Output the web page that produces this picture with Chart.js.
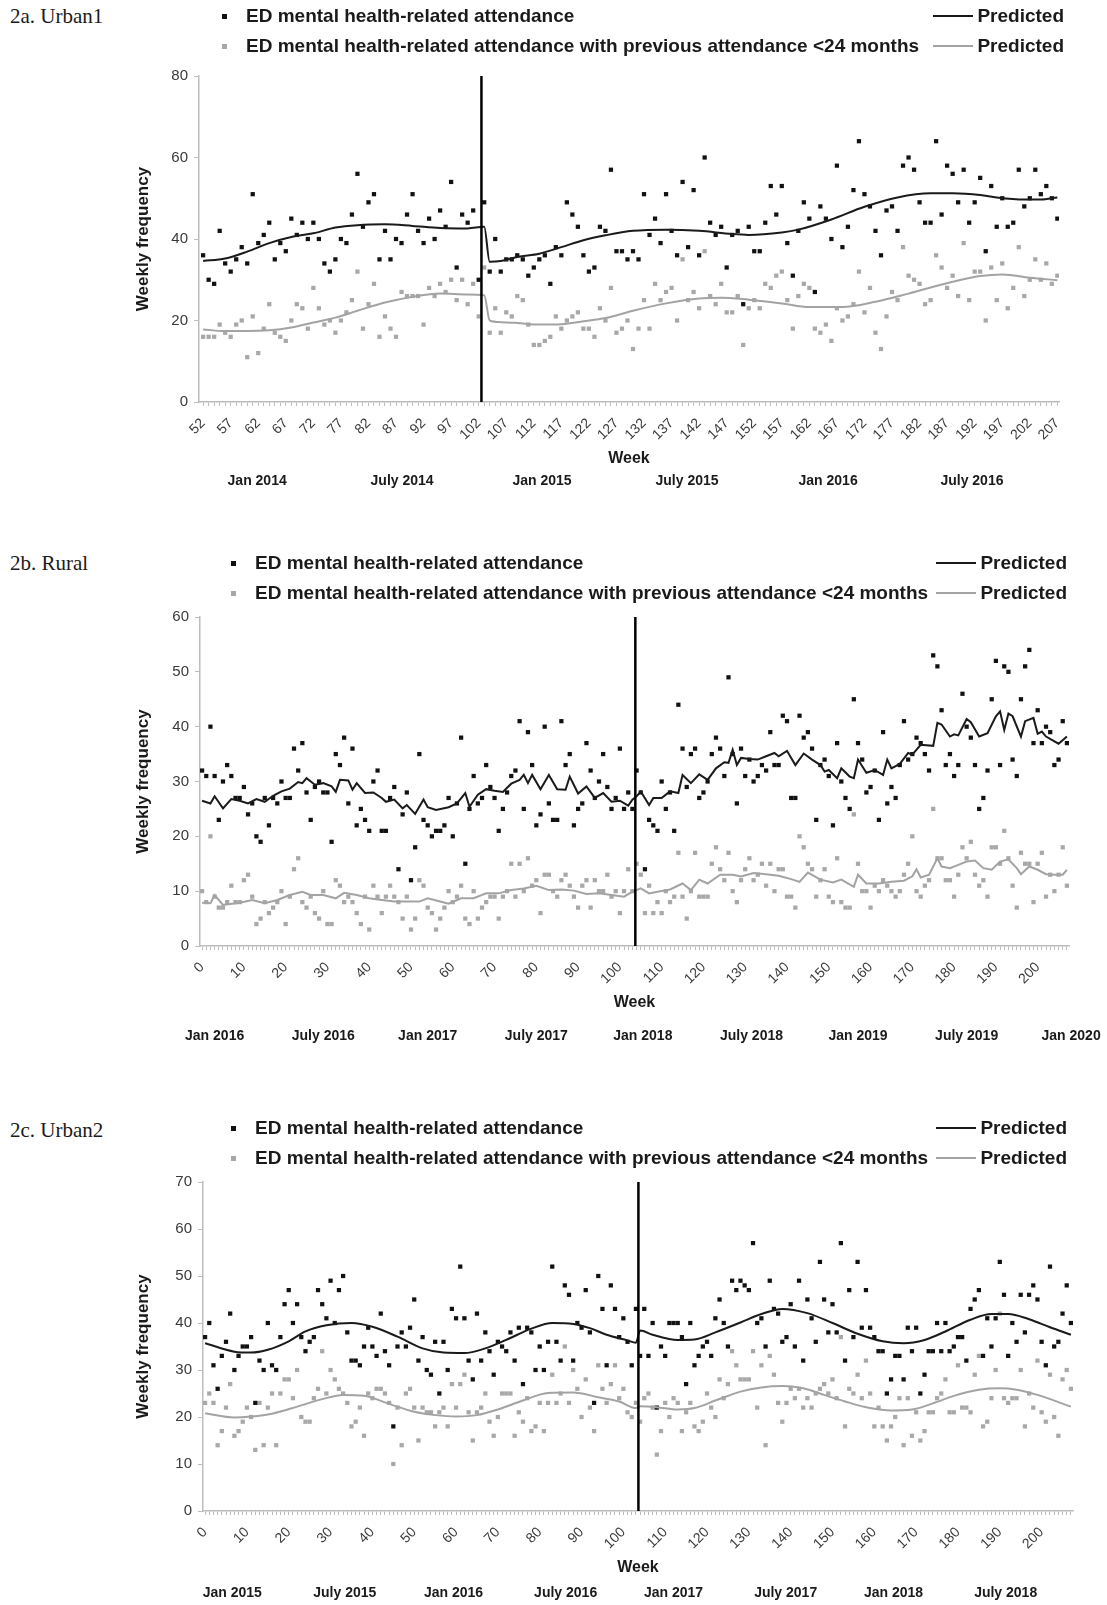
<!DOCTYPE html>
<html>
<head>
<meta charset="utf-8">
<script src="https://cdn.jsdelivr.net/npm/chart.js@4.4.0/dist/chart.umd.min.js"></script>
<style>
  body { margin: 0; width: 1107px; height: 1605px; position: relative; background: #fff; font-family: 'Liberation Sans', Arial, sans-serif; color: #1a1a1a; overflow: hidden; }
  canvas { position: absolute; left: 0; }
  .panel-title { position: absolute; left: 10px; font-family: 'Liberation Serif', 'Times New Roman', serif; font-size: 21px; line-height: 24px; }
  .leg-text { position: absolute; font-weight: bold; font-size: 19px; line-height: 22px; white-space: nowrap; }
  .leg-mark { position: absolute; width: 5px; height: 5px; }
  .leg-pred { position: absolute; display: flex; align-items: center; font-weight: bold; font-size: 19px; line-height: 22px; white-space: nowrap; }
  .leg-line { display: inline-block; width: 40px; height: 2px; margin-right: 4px; }
</style>
</head>
<body>
<div class="panel-title" style="top:4px">2a. Urban1</div>
<div class="panel-title" style="top:551px">2b. Rural</div>
<div class="panel-title" style="top:1118px">2c. Urban2</div>
<canvas id="chart1" width="1107" height="500" style="top:0px"></canvas>
<canvas id="chart2" width="1107" height="530" style="top:530px"></canvas>
<canvas id="chart3" width="1107" height="510" style="top:1095px"></canvas>

<script>
// Week ranges (x categories)
function range(a, b) {
  const out = [];
  for (let i = a; i <= b; i++) out.push(i);
  return out;
}
const weeks1 = range(52, 207);
const weeks2 = range(0, 207);
const weeks3 = range(0, 207);

// Intervention weeks (vertical line)
const cut1 = 102.5;
const cut2 = 103.7;
const cut3 = 103.6;

// 2a. Urban1 - weekly attendance
const black1 = [36,30,29,42,34,32,35,38,34,51,
  39,41,44,35,39,37,45,41,44,40,
  44,40,34,32,35,40,39,46,56,43,
  49,51,35,42,35,40,39,46,51,42,
  39,45,40,47,43,54,33,46,44,47,
  30,49,32,40,32,35,35,36,35,31,
  33,35,36,29,38,36,49,46,43,36,
  32,33,43,42,57,37,37,35,37,35,
  51,41,45,39,51,42,36,54,38,52,
  36,60,44,41,43,33,41,42,24,43,
  37,37,44,53,46,53,39,31,42,49,
  45,27,48,45,40,58,38,43,52,64,
  51,48,42,36,47,48,42,58,60,57,
  49,44,44,64,46,58,56,49,57,44,
  49,55,37,53,43,50,43,44,57,48,
  50,57,51,53,50,45];
const gray1 = [16,16,16,19,17,16,19,20,11,21,
  12,18,24,17,16,15,20,24,23,18,
  28,23,19,20,17,20,22,25,32,18,
  24,29,16,21,18,16,27,26,26,26,
  19,28,26,29,27,30,25,30,24,29,
  21,33,17,23,17,22,21,26,25,19,
  14,14,15,16,21,18,20,21,22,18,
  18,16,23,20,28,17,18,20,13,18,
  25,18,29,25,27,28,20,35,25,27,
  23,37,26,24,29,22,22,26,14,23,
  25,23,29,28,31,32,25,18,26,29,
  28,18,17,19,15,23,20,21,24,32,
  22,28,17,13,21,27,25,38,31,30,
  29,24,25,36,33,28,31,26,39,25,
  32,32,20,33,25,34,23,28,38,26,
  30,35,30,34,29,31];
// Predicted lines as [week, value]
const predBlack1 = [[52,34.6],[56,35.2],[60,36.9],[64,39],[68,40.5],[72,41.4],[76,42.8],[80,43.4],[85,43.6],[90,43.2],
  [95,42.7],[100,42.6],[103,43],[104,34.4],[106,34.6],[109,35.6],[113,36.4],[117,38],[121,39.7],[125,40.9],
  [130,42],[136,42.3],[142,42],[148,41.2],[151,41],[157,41.6],[160,42.3],[166,44.8],[172,47.9],[178,50.2],
  [184,51.2],[188,51.2],[193,50.8],[196,50.2],[201,49.7],[204,49.7],[207,50.2]];
const predGray1 = [[52,17.8],[56,17.4],[60,17.4],[64,17.6],[68,18.3],[72,19.5],[76,20.7],[80,22.4],[85,24.4],[90,25.8],
  [95,26.6],[100,26.4],[103,26.2],[104,20],[106,19.6],[109,19.4],[113,19],[117,19.1],[121,19.8],[125,20.6],
  [130,22.4],[136,24.2],[142,25.4],[146,25.6],[151,25.1],[157,24.2],[162,23.3],[168,23.3],[174,24.6],[180,26.6],
  [188,29.5],[193,30.9],[197,31.3],[202,30.5],[207,29.9]];
const monthLabels1 = ['Jan 2014', 'July 2014', 'Jan 2015', 'July 2015', 'Jan 2016', 'July 2016'];
const monthWeeks1 = [61.8, 88.1, 113.5, 139.8, 165.4, 191.5];

// 2b. Rural
const black2 = [32,31,40,31,23,30,33,31,27,27,
  29,24,26,20,19,27,22,27,26,30,
  27,27,36,32,37,28,23,29,30,28,
  28,19,35,33,38,26,36,22,25,23,
  21,30,32,21,21,27,29,14,24,28,
  12,18,35,23,22,20,21,21,22,27,
  20,26,38,15,25,31,26,27,33,29,
  27,21,25,28,31,32,41,25,39,33,
  22,24,40,26,23,23,41,33,35,22,
  25,26,37,32,27,30,35,29,25,27,
  36,25,28,25,32,28,14,23,22,21,
  30,25,28,21,44,36,29,35,36,27,
  28,30,35,38,36,31,49,35,26,36,
  31,34,30,31,33,32,39,33,33,42,
  41,27,27,42,38,39,36,23,33,34,
  31,22,37,30,27,25,45,37,34,28,
  29,32,23,39,26,29,27,33,41,34,
  35,38,37,35,32,53,51,43,33,35,
  31,33,46,40,38,33,25,27,32,45,
  52,33,51,50,34,31,45,51,54,37,
  43,37,40,39,33,34,41,37];
const gray2 = [10,8,20,9,7,7,8,11,8,8,
  12,13,9,4,5,8,6,7,8,10,
  4,9,14,16,8,7,9,6,5,10,
  4,4,12,11,8,9,8,6,4,9,
  3,11,9,6,9,11,9,8,5,9,
  3,5,12,11,7,6,3,5,7,10,
  8,9,11,5,4,10,5,7,8,9,
  9,5,9,10,15,9,15,10,16,11,
  12,6,13,13,10,9,12,13,11,9,
  7,11,12,7,12,10,10,13,9,10,
  6,10,14,10,15,13,6,11,6,8,
  6,10,8,9,17,9,5,10,17,9,
  9,9,15,18,14,12,17,10,8,12,
  14,16,12,13,15,11,15,10,14,14,
  9,9,7,20,18,15,14,9,12,14,
  9,8,16,8,7,7,24,15,10,10,
  7,11,10,12,11,10,9,10,13,15,
  20,10,9,11,12,25,16,16,12,12,
  9,13,18,16,19,13,11,12,9,18,
  18,15,21,16,11,7,17,15,15,8,
  15,17,9,13,10,13,18,11];
const predBlack2 = [[0,26.5],[2,26],[3,27.3],[5,25.1],[7,26.8],[9,26.5],[11,26],[13,26.8],[15,26.3],[17,27.4],
  [19,28.2],[21,28.7],[23,29.9],[24,29.7],[25,30.6],[27,29.4],[29,29.7],[31,29.1],[32,28.1],[33,30.3],
  [35,30.2],[36,28.5],[37,29.7],[39,27.9],[41,28],[43,27],[44,26.3],[46,26.7],[48,25.1],[49,25.7],
  [51,24.1],[53,26.7],[54,25.3],[56,24.8],[59,25.3],[61,26],[63,27.9],[64,25.4],[66,27.6],[68,28.6],
  [70,28.3],[72,28.1],[74,29.6],[76,30.3],[77,31.2],[78,29.7],[79,31.2],[81,28.6],[83,31.2],[85,28.6],
  [87,28.5],[88,30.9],[90,27.8],[92,29.1],[94,27],[96,27.9],[98,26.3],[100,26.5],[102,25.6],[103,26.7],
  [104,27.3],[105,28.2],[107,25.7],[108,27],[110,27],[112,28.2],[114,27.9],[115,31.2],[117,29.7],[119,31.3],
  [121,30.3],[123,32.4],[125,33.5],[126,33.4],[127,35.8],[128,33],[129,34.3],[131,34.1],[133,34],[135,34.6],
  [137,35.2],[138,34.6],[140,35.6],[142,33],[144,35.1],[146,34],[148,33],[149,31.8],[150,32.1],[152,30.6],
  [153,32.4],[155,30.9],[156,30.6],[157,34],[159,31.6],[161,32.1],[163,31.2],[164,34],[165,32.4],[167,33.2],
  [169,35.2],[170,34.9],[172,36.7],[175,36.5],[176,40.7],[177,40.4],[179,38.2],[180,38.6],[181,38.4],[183,41.4],
  [184,40.8],[186,38.2],[188,38.8],[190,41.9],[191,42.8],[192,39.4],[193,42.4],[194,41.9],[196,38.2],[197,41],
  [199,41.6],[200,38.7],[201,39.1],[202,38.2],[205,36.9],[207,38.2]];
const predGray2 = [[0,7.9],[2,7.8],[3,9.3],[5,7.5],[9,7.9],[12,8.4],[15,7.8],[18,8.4],[21,9.3],[24,9.9],
  [26,9.3],[29,9.3],[32,8.7],[34,9.7],[37,9.3],[40,8.7],[43,8.4],[46,8.1],[49,8.1],[52,8.1],
  [54,8.7],[57,8.1],[59,7.7],[62,8.7],[65,8.7],[68,9.6],[71,9.6],[74,10.2],[77,10.5],[80,11],
  [83,10.2],[86,10.3],[89,10.1],[92,9.5],[95,9.6],[98,9.3],[101,9],[103,9.9],[105,10.5],[107,9.6],
  [109,9.9],[112,10.3],[115,11.4],[117,10.2],[119,12.1],[121,11.4],[124,13],[127,13],[129,12.7],[132,13.3],
  [135,13.1],[138,12.8],[141,12.2],[143,11.7],[145,13.4],[148,12.1],[151,11.6],[153,12.1],[156,10.8],[157,13],
  [159,11.4],[162,11.4],[165,11.7],[168,11.9],[170,12.7],[171,14],[172,12.5],[174,13],[176,16],[177,14.5],
  [179,14.2],[181,14.8],[183,15.4],[185,15.6],[187,14.2],[189,13.9],[191,15.4],[193,15.8],[195,14.2],[196,13.1],
  [198,14.5],[200,13.9],[202,13.1],[204,13],[206,13],[207,13.9]];
const monthLabels2 = ['Jan 2016', 'July 2016', 'Jan 2017', 'July 2017', 'Jan 2018', 'July 2018', 'Jan 2019', 'July 2019', 'Jan 2020'];
const monthWeeks2 = [3, 29, 54, 80, 105.5, 131.5, 157, 183, 208];

// 2c. Urban2
const black3 = [37,40,31,26,33,36,42,30,33,35,
  35,37,23,32,30,40,31,30,37,44,
  47,40,44,37,34,36,37,47,44,41,
  49,40,47,50,38,32,32,31,35,39,
  35,33,42,34,31,18,35,38,35,39,
  45,32,37,30,29,36,25,36,30,43,
  41,52,41,32,28,42,32,38,34,29,
  36,35,34,38,32,39,27,39,38,30,
  35,30,36,52,36,32,48,46,32,40,
  39,47,38,23,50,43,31,48,43,37,
  41,36,31,43,33,43,33,40,22,35,
  33,40,40,40,37,27,40,31,33,35,
  36,33,41,45,40,35,49,47,49,48,
  47,57,40,41,35,49,43,42,36,37,
  44,35,49,32,45,41,36,53,45,38,
  44,38,57,32,47,37,53,39,47,39,
  37,34,34,25,28,33,33,28,39,34,
  39,25,29,34,34,40,34,40,34,35,
  37,37,32,43,45,47,33,41,35,41,
  53,46,33,40,36,46,38,46,48,45,
  36,31,52,35,36,42,48,40];
const gray3 = [23,25,23,14,17,22,27,16,17,19,
  22,20,13,23,14,22,25,14,25,28,
  28,24,30,20,19,19,24,26,34,25,
  30,28,26,25,23,18,19,22,16,25,
  24,26,26,25,23,10,22,14,25,26,
  22,15,22,21,21,18,21,22,18,27,
  22,27,29,21,15,21,22,25,19,16,
  20,25,25,25,16,21,19,24,17,18,
  23,17,23,29,23,25,35,23,30,26,
  20,28,22,17,31,26,23,27,31,24,
  26,21,20,23,19,24,25,22,12,17,
  23,20,24,23,17,21,23,18,17,19,
  25,22,20,28,24,27,34,31,28,28,
  28,34,22,31,14,33,29,23,19,23,
  26,24,26,22,24,22,25,26,27,25,
  28,24,37,18,26,25,29,24,32,25,
  18,22,18,15,18,20,24,14,24,16,
  21,15,17,21,21,24,25,28,21,21,
  31,22,22,21,29,33,18,19,24,30,
  42,24,23,24,24,30,18,25,22,32,
  21,19,29,20,16,28,30,26];
const predBlack3 = [[0,35.7],[7,33.9],[11,33.7],[15,34.3],[20,36.1],[24,38.2],[29,39.5],[35,40],[40,39.2],[46,37.1],
  [52,34.6],[57,33.7],[62,33.6],[67,34.6],[72,36.4],[78,38.8],[83,40],[88,39.8],[92,38.9],[96,37.5],
  [101,36.3],[103,35.8],[104,38.4],[107,37.5],[113,36.4],[117,36.5],[122,38],[128,40.1],[133,41.9],[138,43],
  [144,42.1],[150,40],[156,37.7],[162,36.1],[167,35.7],[172,36.4],[177,38.2],[183,40.7],[188,41.9],[192,41.9],
  [197,40.8],[202,39.1],[207,37.5]];
const predGray3 = [[0,20.8],[7,19.9],[11,20.1],[16,20.7],[22,22.2],[28,23.8],[33,24.7],[38,24.5],[44,22.8],[50,21.1],
  [55,20.4],[60,20.1],[65,20.4],[70,21.6],[76,23.5],[82,25.1],[88,25.2],[94,24.2],[99,23.3],[103,21.9],
  [104,22.3],[108,22.1],[113,21.6],[117,21.9],[122,23.5],[128,25.4],[133,26.3],[138,26.6],[143,26.1],[148,24.7],
  [153,23.3],[159,21.9],[164,21.4],[169,21.6],[174,22.9],[179,24.5],[185,25.8],[190,26.1],[194,25.8],[199,24.7],
  [207,22.2]];
const monthLabels3 = ['Jan 2015', 'July 2015', 'Jan 2016', 'July 2016', 'Jan 2017', 'July 2017', 'Jan 2018', 'July 2018'];
const monthWeeks3 = [6.5, 33.4, 59.4, 86.2, 112, 138.8, 164.6, 191.4];

const FONT = "'Liberation Sans', Arial, sans-serif";
const AXIS_GRAY = '#bdbdbd';

// Month labels under the week axis
const monthLabelPlugin = {
  id: 'monthLabels',
  afterDraw(chart, args, opts) {
    const xs = chart.scales.x;
    const ctx = chart.ctx;
    ctx.save();
    ctx.font = 'bold 14px ' + FONT;
    ctx.fillStyle = '#1a1a1a';
    ctx.textAlign = 'center';
    ctx.textBaseline = 'middle';
    opts.weeks.forEach((w, i) => {
      ctx.fillText(opts.labels[i], xs.getPixelForValue(w), xs.bottom + opts.offset);
    });
    ctx.restore();
  }
};

function pairsToXY(pairs) {
  return pairs.map(p => ({ x: p[0], y: p[1] }));
}

function seriesToXY(weeks, values) {
  return weeks.map((w, i) => ({ x: w, y: values[i] }));
}

function buildChart(id, p) {
  const lineMode = p.smooth ? 'monotone' : 'default';
  return new Chart(document.getElementById(id), {
    type: 'scatter',
    data: {
      datasets: [
        { type: 'line', data: [{ x: p.cut, y: 0 }, { x: p.cut, y: p.yMax }], borderColor: '#000', borderWidth: 2.5, pointRadius: 0, order: 0 },
        { type: 'line', data: pairsToXY(p.predBlack), borderColor: '#1a1a1a', borderWidth: 2, pointRadius: 0, tension: 0, cubicInterpolationMode: lineMode, order: 1 },
        { type: 'line', data: pairsToXY(p.predGray), borderColor: '#a3a3a3', borderWidth: 2, pointRadius: 0, tension: 0, cubicInterpolationMode: lineMode, order: 2 },
        { data: seriesToXY(p.weeks, p.black), pointStyle: 'rect', pointRadius: 3, backgroundColor: '#111', borderWidth: 0, order: 3 },
        { data: seriesToXY(p.weeks, p.gray), pointStyle: 'rect', pointRadius: 3, backgroundColor: '#a8a8a8', borderWidth: 0, order: 4 }
      ]
    },
    options: {
      responsive: false,
      devicePixelRatio: 1,
      animation: false,
      events: [],
      layout: { padding: p.padding },
      plugins: {
        legend: { display: false },
        tooltip: { enabled: false },
        monthLabels: { weeks: p.monthWeeks, labels: p.monthLabels, offset: p.monthOffset }
      },
      scales: {
        x: {
          type: 'linear',
          min: p.xMin,
          max: p.xMax,
          afterBuildTicks: s => { s.ticks = p.weeks.map(v => ({ value: v })); },
          afterFit: s => { s.height = 70; },
          ticks: {
            autoSkip: false,
            minRotation: 45,
            maxRotation: 45,
            padding: 9,
            color: '#3a3a3a',
            font: { family: FONT, size: 14 },
            callback: v => ((v - p.labelStart) % p.labelEvery === 0 ? String(v) : '')
          },
          grid: { drawOnChartArea: false, drawTicks: true, tickLength: 4, color: AXIS_GRAY },
          border: { color: AXIS_GRAY, width: 1.5 },
          title: { display: true, text: 'Week', color: '#1a1a1a', font: { family: FONT, size: 16, weight: 'bold' }, padding: { top: 4, bottom: 4 } }
        },
        y: {
          min: 0,
          max: p.yMax,
          afterFit: s => { s.width = p.yWidth; },
          ticks: { stepSize: p.yStep, color: '#3a3a3a', padding: 6, font: { family: FONT, size: 15 } },
          grid: { drawOnChartArea: false, drawTicks: true, tickLength: 5, color: AXIS_GRAY },
          border: { color: AXIS_GRAY, width: 1.5 },
          title: { display: true, text: 'Weekly frequency', color: '#1a1a1a', font: { family: FONT, size: 17, weight: 'bold' }, padding: { top: 4, bottom: 4 } }
        }
      }
    },
    plugins: [monthLabelPlugin]
  });
}

// HTML legend (two rows per panel)
function addLegend(rowY, markX, rightX) {
  const rows = [
    { text: 'ED mental health-related attendance', color: '#111', y: rowY },
    { text: 'ED mental health-related attendance with previous attendance <24 months', color: '#a8a8a8', y: rowY + 30 }
  ];
  rows.forEach(r => {
    const mark = document.createElement('div');
    mark.className = 'leg-mark';
    mark.style.left = (markX - 2.5) + 'px';
    mark.style.top = (r.y - 2.5) + 'px';
    mark.style.background = r.color;
    document.body.appendChild(mark);

    const txt = document.createElement('div');
    txt.className = 'leg-text';
    txt.style.left = (markX + 22) + 'px';
    txt.style.top = (r.y - 11) + 'px';
    txt.textContent = r.text;
    document.body.appendChild(txt);

    const pred = document.createElement('div');
    pred.className = 'leg-pred';
    pred.style.right = (1107 - rightX) + 'px';
    pred.style.top = (r.y - 11) + 'px';
    const ln = document.createElement('span');
    ln.className = 'leg-line';
    ln.style.background = r.color === '#111' ? '#1a1a1a' : '#a3a3a3';
    const lab = document.createElement('span');
    lab.textContent = 'Predicted';
    pred.appendChild(ln);
    pred.appendChild(lab);
    document.body.appendChild(pred);
  });
}

addLegend(16, 224, 1064);
addLegend(563, 233, 1067);
addLegend(1128, 233, 1067);

buildChart('chart1', {
  weeks: weeks1, black: black1, gray: gray1, predBlack: predBlack1, predGray: predGray1,
  cut: cut1, smooth: true, xMin: 51.25, xMax: 207.3, yMax: 80, yStep: 20,
  labelStart: 52, labelEvery: 5, yWidth: 70,
  padding: { top: 76, left: 129, right: 48, bottom: 28 },
  monthWeeks: monthWeeks1, monthLabels: monthLabels1, monthOffset: 9
});

buildChart('chart2', {
  weeks: weeks2, black: black2, gray: gray2, predBlack: predBlack2, predGray: predGray2,
  cut: cut2, smooth: false, xMin: -0.5, xMax: 207.5, yMax: 60, yStep: 10,
  labelStart: 0, labelEvery: 10, yWidth: 71,
  padding: { top: 87, left: 129, right: 38, bottom: 44 },
  monthWeeks: monthWeeks2, monthLabels: monthLabels2, monthOffset: 20
});

buildChart('chart3', {
  weeks: weeks3, black: black3, gray: gray3, predBlack: predBlack3, predGray: predGray3,
  cut: cut3, smooth: true, xMin: -0.5, xMax: 207.5, yMax: 70, yStep: 10,
  labelStart: 0, labelEvery: 10, yWidth: 74,
  padding: { top: 87, left: 129, right: 34, bottom: 24 },
  monthWeeks: monthWeeks3, monthLabels: monthLabels3, monthOffset: 12
});
</script>
</body>
</html>
